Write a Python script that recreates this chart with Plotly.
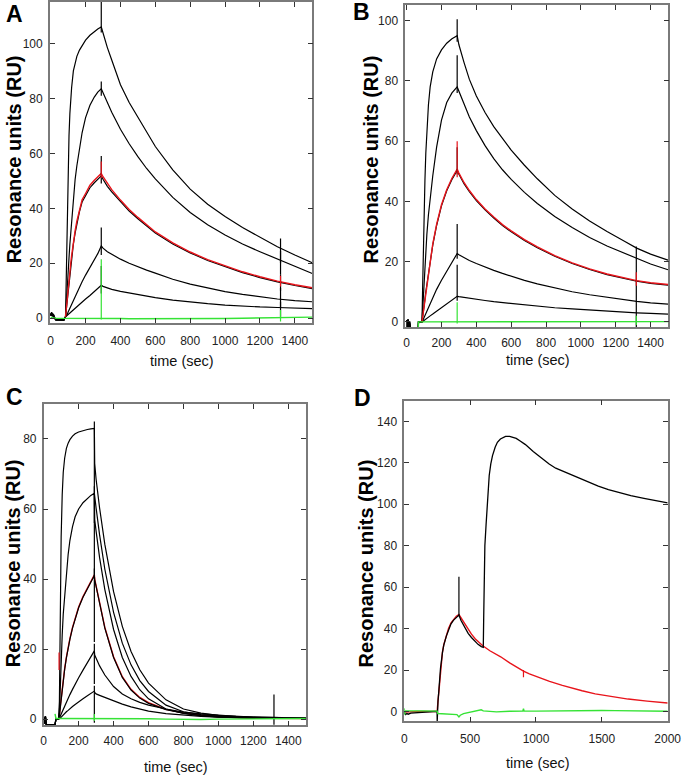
import plotly.graph_objects as go

# ---------------- Panel A ----------------
A_time = [0, 5, 10, 15, 20, 30, 50, 75, 85, 90, 95, 100, 105, 110, 115, 120, 130, 140, 150, 165, 180,
          200, 225, 250, 270, 290, 300, 325, 350, 400, 450, 500, 550, 600, 700, 800, 900, 1000, 1100,
          1200, 1300, 1400, 1500]
A_curve1 = [1.0, 2.0, 0.8, 1.5, 0.3, -0.6, -0.6, -0.7, 0.5, 20, 40, 55, 66.5, 74.5, 80, 84, 90, 93, 95.3, 97.6, 99.3,
            101.2, 103, 104.4, 105.3, 106, 103.8, 98.5, 94, 85, 78.5, 73, 67.5, 62.5, 54, 47, 41.5, 37, 33,
            29.5, 26, 23, 20.2]
A_curve2 = [1.0, 2.0, 0.8, 1.5, 0.3, -0.6, -0.6, -0.7, 0.5, 5, 11, 16.5, 22, 27, 31.5, 36, 44, 50.5, 55.5, 62, 67.5,
            73, 77.5, 80.5, 82.3, 83.5, 82, 78.5, 75, 68.8, 63.5, 58.8, 54.5, 50.7, 44, 38.5, 34, 30.3, 27,
            24.2, 21.6, 18.9, 16.3]
A_curve3 = [1.0, 2.0, 0.8, 1.5, 0.3, -0.6, -0.6, -0.7, 0.5, 3.5, 7, 10.5, 13.5, 16.5, 19.3, 22, 27, 31, 34.5, 38.8, 42.3,
            44.5, 47.5, 49.3, 50.7, 51.8, 50.6, 48, 46, 42.3, 39, 36.2, 33.5, 31, 27, 23.8, 21, 18.7, 16.6,
            14.8, 13.2, 11.9, 10.8]
A_curve4 = [1.0, 2.0, 0.8, 1.5, 0.3, -0.6, -0.6, -0.7, 0.5, 0.9, 1.5, 2.3, 3, 3.8, 4.5, 5.2, 6.8, 8.2, 9.5, 11.5, 13.3,
            15.7, 18.5, 21.2, 23.5, 26.3, 25.5, 24.2, 23.2, 21.5, 20, 18.7, 17.5, 16.4, 14.2, 12.4, 11, 9.7, 8.7,
            7.8, 7.0, 6.4, 6.0]
A_curve5 = [1.0, 2.0, 0.8, 1.5, 0.3, -0.6, -0.6, -0.7, 0.5, 0.7, 1.0, 1.3, 1.6, 1.9, 2.2, 2.5, 3.1, 3.7, 4.3, 5.1, 5.9,
            7.0, 8.3, 9.6, 10.8, 12.0, 11.6, 11.0, 10.5, 9.8, 9.2, 8.6, 8.0, 7.5, 6.6, 5.9, 5.3, 4.8, 4.4,
            4.1, 3.9, 3.7, 3.5]
A_fit = [None, None, None, None, None, None, None, None, 0.5, 4.2, 7.8, 11.3, 14.3, 17.3, 20.1, 22.8, 27.8, 31.8, 35.3,
         39.6, 43.1, 45.4, 48.4, 50.2, 51.6, 52.7, 51.5, 48.9, 46.8, 43, 39.6, 36.7, 34, 31.4, 27.4, 24.1, 21.3, 19,
         16.9, 15.1, 13.5, 12.2, 11.1]
A_blank = [0.2, 0.3, 0.1, 0.2, 0.1, 0.0, 0.0, 0.0, 0.1, 0.1, 0.1, 0.1, 0.1, 0.1, 0.1, 0.1, 0.1, 0.1, 0.1, 0.1, 0.1,
           0.1, 0.1, 0.1, 0.0, 0.0, 0.0, 0.0, -0.1, -0.1, -0.2, -0.2, -0.3, -0.3, -0.3, -0.3, -0.2, -0.1, 0.0,
           0.1, 0.2, 0.3, 0.4]
A_spike_black_t = [290, 290, 290, 290, 290, 1318, 1318, 1318, 1318, 1318]
A_spike_black_lo = [104, 81, 49, 23, 9, 20, 16, 10, 4, 0.5]
A_spike_black_hi = [118, 86.2, 59, 33, 19, 29, 24.5, 16, 11, 6]
A_spike_red_t = [290, 1318]
A_spike_red_lo = [51, 11.5]
A_spike_red_hi = [57, 15.5]
A_spike_green_t = [290, 1318]
A_spike_green_lo = [-0.5, -1.2]
A_spike_green_hi = [21.5, 3]

# ---------------- Panel B ----------------
B_time = [0, 4, 8, 12, 16, 20, 25, 66, 68, 80, 88, 92, 96, 100, 105, 110, 116, 125, 135, 150, 172,
          200, 230, 260, 290, 300, 330, 360, 400, 450, 500, 550, 600, 676, 750, 850, 950, 1050, 1150,
          1250, 1320, 1400, 1500]
B_curve1 = [0.5, -2.5, 0.8, -2.5, 0.3, -3, -4, -4, 0, 0, 0, 12, 25, 36, 47, 56, 64, 72, 78, 83, 87.3,
            90.3, 92.5, 94, 95, 92, 86, 80.5, 75, 69.5, 64.8, 60.7, 57, 52, 47.5, 42, 37.5, 33.5, 30,
            26.8, 24.5, 22.5, 20.5]
B_curve2 = [0.5, -2.5, 0.8, -2.5, 0.3, -3, -4, -4, 0, 0, 0, 4, 8.5, 13, 18.5, 23.5, 29, 35.5, 41.5, 48.5, 58,
            67, 72.8, 76, 78, 76.5, 72, 68, 63.5, 58.5, 54.2, 50.5, 47.3, 43, 39.3, 35, 31.3, 28, 25.2,
            22.7, 21, 19.2, 17.3]
B_curve3 = [0.5, -2.5, 0.8, -2.5, 0.3, -3, -4, -4, 0, 0, 0, 1.5, 3, 5, 7.5, 10, 12.5, 16, 20, 25.5, 32,
            38.5, 43.5, 47.3, 50.3, 49, 45.8, 43.2, 40.3, 37.2, 34.5, 32, 29.9, 27, 24.6, 21.8, 19.4, 17.4, 15.7,
            14.3, 13.5, 12.8, 12.2]
B_curve4 = [0.5, -2.5, 0.8, -2.5, 0.3, -3, -4, -4, 0, 0, 0, 0.4, 0.9, 1.5, 2.2, 2.9, 3.7, 4.9, 6.2, 8.2, 10.8,
            13.8, 16.8, 19.8, 22.7, 22.3, 21.3, 20.4, 19.4, 18.2, 17.1, 16.1, 15.1, 13.8, 12.6, 11.2, 10, 9, 8.1,
            7.3, 6.8, 6.3, 5.9]
B_curve5 = [0.5, -2.5, 0.8, -2.5, 0.3, -3, -4, -4, 0, 0, 0, 0.1, 0.3, 0.5, 0.8, 1.0, 1.2, 1.6, 2.0, 2.6, 3.5,
            4.6, 5.8, 7.1, 8.5, 8.4, 8.1, 7.8, 7.5, 7.1, 6.7, 6.4, 6.1, 5.6, 5.2, 4.7, 4.3, 3.9, 3.5,
            3.2, 3.0, 2.8, 2.6]
B_fit = [None, None, None, None, None, None, None, None, None, None, 0, 1.7, 3.3, 5.3, 7.8, 10.3, 12.8, 16.3, 20.4,
         25.9, 32.4, 38.9, 43.9, 47.7, 50.7, 49.4, 46.2, 43.6, 40.6, 37.5, 34.8, 32.3, 30.2, 27.3, 24.9, 22, 19.6,
         17.6, 15.9, 14.5, 13.7, 13, 12.4]
B_blank = [-4, -4, -4, -4, -4, -4, -4, -4, 0, 0, 0, 0, 0, 0, 0, 0, 0, 0, 0, 0, 0,
           0, 0, 0, 0, 0, 0, 0, 0, 0, 0, 0, 0, 0, 0, 0, 0, 0, 0.1,
           0.1, 0.1, 0.1, 0.1]
B_spike_black_t = [290, 290, 290, 290, 290, 1318]
B_spike_black_lo = [93, 76, 49, 21, 7, -2]
B_spike_black_hi = [100.5, 88.5, 58, 32.5, 19, 25]
B_spike_red_t = [290, 1318]
B_spike_red_lo = [48, 12]
B_spike_red_hi = [60, 16.5]
B_spike_green_t = [290, 1318]
B_spike_green_lo = [-0.5, -1]
B_spike_green_hi = [6.5, 2]

# ---------------- Panel C ----------------
C_time = [0, 5, 10, 15, 20, 60, 65, 70, 80, 85, 90, 95, 100, 106, 112, 120, 130, 140, 150, 165, 180, 200,
          225, 250, 270, 290, 292, 300, 320, 350, 400, 450, 500, 550, 600, 700, 800, 900, 1000, 1100, 1200,
          1300, 1400, 1500]
C_curve1 = [0.5, -1.2, 0.8, -1.6, -1.6, -1.6, -1.6, 0, 0, 0, 5, 35, 52, 64, 70.5, 74.5, 77.3, 78.8, 79.8, 80.8,
            81.5, 82, 82.4, 82.7, 82.9, 83, 73, 68.5, 60.3, 49.9, 36.4, 26.5, 19.3, 14.1, 10.3, 5.5, 2.9, 1.7,
            1.1, 0.8, 0.6, 0.5, 0.4, 0.3]
C_curve2 = [0.5, -1.2, 0.8, -1.6, -1.6, -1.6, -1.6, 0, 0, 0, 2, 10, 17, 24, 30, 35.5, 42, 47, 51, 55,
            57.8, 60, 61.8, 63, 63.9, 64.5, 57, 53.7, 46.1, 37, 25.6, 17.6, 12.2, 8.4, 5.8, 2.9, 1.6, 1.0,
            0.7, 0.5, 0.4, 0.35, 0.3, 0.25]
C_curve6 = [None, None, None, None, None, None, None, None, None, None, None, None, None, None, None, None, None,
            None, None, None, None, None, None, None, None, 64.5, 63.5, 60.3, 52.6, 42.8, 30.5, 21.7, 15.5, 11.0,
            7.9, 4.0, 2.1, 1.3, 0.9, 0.6, 0.5, 0.4, 0.35, 0.3]
C_curve3 = [0.5, -1.2, 0.8, -1.6, -1.6, -1.6, -1.6, 0, 0, 0, 1, 3.5, 6, 8.8, 11.3, 14.2, 17.5, 20.3, 22.8, 26,
            28.8, 31.8, 34.8, 37.3, 39.3, 41, 39.8, 37.8, 32.8, 26, 17.6, 11.9, 8.3, 6.0, 4.5, 2.7, 1.7, 1.0,
            0.6, 0.4, 0.3, 0.2, 0.2, 0.2]
C_curve4 = [0.5, -1.2, 0.8, -1.6, -1.6, -1.6, -1.6, 0, 0, 0, 0.3, 0.9, 1.5, 2.2, 2.9, 3.8, 4.9, 6, 7, 8.5,
            10, 11.8, 14, 16, 17.8, 19.5, 18.3, 17.3, 15.2, 12.6, 9.3, 7.2, 5.8, 4.8, 4.0, 2.9, 2.0, 1.5,
            1.1, 0.8, 0.6, 0.5, 0.4, 0.3]
C_curve5 = [0.5, -1.2, 0.8, -1.6, -1.6, -1.6, -1.6, 0, 0, 0, 0.1, 0.3, 0.6, 0.9, 1.2, 1.6, 2.1, 2.5, 3.0, 3.6,
            4.2, 5.0, 5.8, 6.7, 7.4, 8.0, 7.6, 7.2, 6.8, 6.2, 5.2, 4.3, 3.5, 2.9, 2.3, 1.6, 1.1, 0.8,
            0.55, 0.4, 0.3, 0.25, 0.2, 0.2]
C_fit = [None, None, None, None, None, None, None, None, None, 0, 1.2, 3.7, 6.2, 9, 11.5, 14.4, 17.7, 20.5, 23, 26.2,
         29, 32, 35, 37.5, 39.5, 41.2, 40, 38, 33, 26.2, 17.8, 12.1, 8.5, 6.2, 4.7, 2.8, 1.8, 1.1,
         0.7, 0.45, 0.3, 0.25, 0.2, 0.2]
C_blank = [None, None, None, None, None, None, 1.5, 0.2, 0.2, 0.2, 0.2, 0.2, 0.2, 0.2, 0.2, 0.2, 0.3, 0.3, 0.3, 0.3,
           0.3, 0.3, 0.3, 0.3, 0.3, 0.3, 0.3, 0.3, 0.3, 0.3, 0.2, 0.2, 0.2, 0.1, 0.1, 0.0, -0.1, -0.1,
           0.0, 0.0, 0.1, 0.1, 0.2, 0.2]
C_spike_black_t = [290, 290, 290, 290, 290, 1318]
C_spike_black_lo = [56, 40, 22, 10, -1, -1.6]
C_spike_black_hi = [85, 66.5, 43, 21.5, 9.5, 7]
C_spike_red_t = [88]
C_spike_red_lo = [14]
C_spike_red_hi = [19]
C_spike_green_t = [290]
C_spike_green_lo = [-0.5]
C_spike_green_hi = [1.5]

# ---------------- Panel D ----------------
D_black_time = [0, 10, 20, 30, 50, 75, 100, 125, 150, 175, 200, 225, 249, 250, 252, 256, 262, 275, 290, 300,
                320, 336, 355, 373, 395, 415, 430, 448, 465, 485, 510, 534, 560, 585, 600, 603, 607, 612, 621,
                633, 645, 657, 670, 690, 707, 730, 769, 800, 819, 850, 880, 920, 979, 1053, 1100, 1150, 1226,
                1300, 1400, 1473, 1550, 1650, 1720, 1820, 1900, 2000]
D_black = [-0.5, -1.5, -1.0, -1.3, -0.8, -0.7, -0.5, -0.3, -0.2, -0.1, 0, 0, 0.1, -5, 2, 5, 9.6, 20.8, 28.5, 32,
           36.5, 39.5, 42.3, 44, 45.5, 46.5, 44, 41.7, 39.6, 37.7, 35.7, 34, 32.4, 31.3, 31, 45, 70, 80, 90,
           102.6, 113.9, 119.5, 123.5, 127.5, 129.9, 131.5, 132.8, 132.8, 132.5, 131.8, 130.5, 128.8, 125.5, 121.5,
           119.4, 117.4, 115.3, 113.3, 110.6, 108.8, 107.1, 105.3, 104.2, 102.9, 101.9, 100.7]
D_red_time = [0, 20, 50, 100, 150, 200, 250, 252, 256, 262, 275, 290, 300, 320, 336, 355, 373, 395, 415, 430,
              448, 465, 485, 510, 540, 570, 596, 650, 700, 732, 800, 850, 905, 950, 1000, 1103, 1200, 1300,
              1350, 1450, 1597, 1700, 1844, 1993, 2000]
D_red = [-0.3, -0.2, -0.1, 0, 0, 0, 0, 2, 5, 9.6, 20.8, 28.7, 32.3, 37, 40, 42.8, 44.5, 46, 46.8, 45.3,
         43.5, 41.8, 39.5, 37.3, 35, 33.1, 31.7, 29.3, 27.5, 26.4, 23.5, 21.4, 19.5, 18.2, 16.9, 14.5, 12.6, 10.8,
         10.0, 8.5, 6.9, 6.0, 5.0, 4.2, 4.1]
D_green_time = [0, 3, 6, 20, 50, 100, 150, 200, 250, 255, 300, 350, 400, 415, 425, 450, 500, 550, 584, 600,
                650, 700, 800, 900, 905, 910, 1000, 1100, 1200, 1300, 1400, 1500, 1600, 1700, 1800, 1900, 2000]
D_green = [1.5, -1.5, 0.4, 0.3, 0.4, 0.3, 0.3, 0.3, 0.2, -1.0, -1.2, -1.3, -1.5, -2.6, -1.8, -1.0, -0.3, 0.2, 0.8,
           0.3, 0.0, -0.2, 0.1, 0.2, 1.3, 0.2, 0.2, 0.3, 0.2, 0.4, 0.3, 0.5, 0.4, 0.4, 0.2, 0.1, 0.1]
D_spike_black_t = [415]
D_spike_black_lo = [46]
D_spike_black_hi = [65]
D_spike_red_t = [905]
D_spike_red_lo = [16.5]
D_spike_red_hi = [20]

# ---------------- Text ----------------
panel_letters = ["A", "B", "C", "D"]
y_title = "Resonance units (RU)"
x_title = "time (sec)"

# ---------------- Styling ----------------
BLACK = "#000000"
RED = "#e8141b"
GREEN = "#35e335"
FONT = "Liberation Sans, Arial, Helvetica, sans-serif"

fig = go.Figure()


def vsegs(ts, los, his):
    xs, ys = [], []
    for t, lo, hi in zip(ts, los, his):
        xs += [t, t, None]
        ys += [lo, hi, None]
    return xs, ys


def line(x, y, color, width, xa, ya):
    fig.add_trace(go.Scatter(x=x, y=y, mode="lines", line=dict(color=color, width=width),
                             xaxis=xa, yaxis=ya, showlegend=False, hoverinfo="skip",
                             connectgaps=False))


def spikes(ts, los, his, color, xa, ya):
    xs, ys = vsegs(ts, los, his)
    line(xs, ys, color, 1.2, xa, ya)


# Panel A
for c in [A_curve1, A_curve2, A_curve3, A_curve4, A_curve5]:
    line(A_time, c, BLACK, 1.2, "x", "y")
line(A_time, A_fit, RED, 1.4, "x", "y")
spikes(A_spike_black_t, A_spike_black_lo, A_spike_black_hi, BLACK, "x", "y")
spikes(A_spike_red_t, A_spike_red_lo, A_spike_red_hi, RED, "x", "y")
line(A_time, A_blank, GREEN, 1.4, "x", "y")
spikes(A_spike_green_t, A_spike_green_lo, A_spike_green_hi, GREEN, "x", "y")

# Panel B
for c in [B_curve1, B_curve2, B_curve3, B_curve4, B_curve5]:
    line(B_time, c, BLACK, 1.2, "x2", "y2")
line(B_time, B_fit, RED, 1.4, "x2", "y2")
spikes(B_spike_black_t, B_spike_black_lo, B_spike_black_hi, BLACK, "x2", "y2")
spikes(B_spike_red_t, B_spike_red_lo, B_spike_red_hi, RED, "x2", "y2")
line(B_time, B_blank, GREEN, 1.4, "x2", "y2")
spikes(B_spike_green_t, B_spike_green_lo, B_spike_green_hi, GREEN, "x2", "y2")

# Panel C
line(C_time, C_fit, RED, 1.4, "x3", "y3")
for c in [C_curve1, C_curve2, C_curve6, C_curve3, C_curve4, C_curve5]:
    line(C_time, c, BLACK, 1.2, "x3", "y3")
spikes(C_spike_black_t, C_spike_black_lo, C_spike_black_hi, BLACK, "x3", "y3")
spikes(C_spike_red_t, C_spike_red_lo, C_spike_red_hi, RED, "x3", "y3")
line(C_time, C_blank, GREEN, 1.4, "x3", "y3")
spikes(C_spike_green_t, C_spike_green_lo, C_spike_green_hi, GREEN, "x3", "y3")

# Panel D
line(D_red_time, D_red, RED, 1.4, "x4", "y4")
spikes(D_spike_red_t, D_spike_red_lo, D_spike_red_hi, RED, "x4", "y4")
line(D_black_time, D_black, BLACK, 1.3, "x4", "y4")
spikes(D_spike_black_t, D_spike_black_lo, D_spike_black_hi, BLACK, "x4", "y4")
line(D_green_time, D_green, GREEN, 1.4, "x4", "y4")

W, H = 697, 780


def px_x(p):
    return p / W


def px_y(p):
    return 1 - p / H


def axis(dom, rng, dtick, anchor, standoff):
    return dict(domain=dom, range=rng, dtick=dtick, tick0=0, anchor=anchor,
                showline=True, linecolor="#7a7a7a", linewidth=1.5, mirror="ticks",
                ticks="inside", ticklen=5, tickwidth=1, tickcolor="#333333",
                showgrid=False, zeroline=False, ticklabelstandoff=standoff,
                tickfont=dict(family=FONT, size=12, color="#222222"))


panels = [
    # x px range, y px range (top, bottom), x range, y range, x dtick
    ((48, 317), (2, 324), [-5, 1500], [-1.8, 115.1], 200),
    ((412.3, 682), (5, 328), [-8, 1502], [-1.75, 105.2], 200),
    ((41.7, 310.7), (405, 727.3), [0, 1502], [-1.8, 90], 200),
    ((411.3, 681.3), (401.7, 723.3), [0, 2000], [-4.8, 150], 500),
]
xlabel_standoff = [6, 4, 3, 5]

layout = dict(width=W, height=H, margin=dict(l=0, r=0, t=0, b=0),
              paper_bgcolor="white", plot_bgcolor="white", showlegend=False)
for i, (xp, yp, xr, yr, xd) in enumerate(panels):
    n = "" if i == 0 else str(i + 1)
    layout["xaxis" + n] = axis([px_x(xp[0]), px_x(xp[1])], xr, xd, "y" + n, xlabel_standoff[i])
    layout["yaxis" + n] = axis([px_y(yp[1]), px_y(yp[0])], yr, 20, "x" + n, 3)

fig.update_layout(**layout)

ytitle_pos = [(11, 160), (377, 160), (10, 565), (372, 565)]
xtitle_pos = [(183, 362), (548, 360.5), (177, 769), (548, 765)]
letter_pos = [(12, 14), (367, 12), (12, 398), (368, 399)]
for i in range(4):
    fig.add_annotation(x=px_x(ytitle_pos[i][0]), y=px_y(ytitle_pos[i][1]), xref="paper", yref="paper",
                       text="<b>" + y_title + "</b>", textangle=-90, showarrow=False,
                       font=dict(family=FONT, size=20, color="#000000"),
                       xanchor="center", yanchor="middle")
    fig.add_annotation(x=px_x(xtitle_pos[i][0]), y=px_y(xtitle_pos[i][1]), xref="paper", yref="paper",
                       text=x_title, showarrow=False,
                       font=dict(family=FONT, size=14.5, color="#111111"),
                       xanchor="center", yanchor="middle")
    fig.add_annotation(x=px_x(letter_pos[i][0]), y=px_y(letter_pos[i][1]), xref="paper", yref="paper",
                       text="<b>" + panel_letters[i] + "</b>", showarrow=False,
                       font=dict(family=FONT, size=23, color="#000000"),
                       xanchor="center", yanchor="middle")

fig.write_html("out.html", config={"displayModeBar": False},
               post_script="document.body.style.margin='0';document.body.style.padding='0';"
                           "document.body.style.overflow='hidden';")
